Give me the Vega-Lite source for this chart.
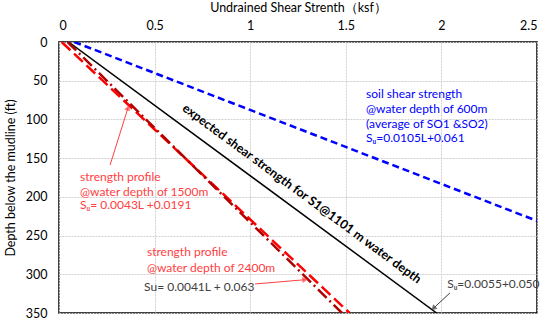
{
  "$schema": "https://vega.github.io/schema/vega-lite/v6.json",
  "autosize": "none",
  "width": 478,
  "height": 271,
  "padding": {"left": 59, "top": 42, "right": 13, "bottom": 9},
  "background": "white",
  "config": {
    "view": {"stroke": "#000000", "strokeWidth": 1.5},
    "font": "Lato",
    "axis": {
      "domain": false,
      "ticks": false,
      "grid": true,
      "gridColor": "#d0d0d0",
      "gridDash": [2, 1],
      "gridWidth": 1,
      "labelFont": "Lato",
      "labelFontSize": 12.5,
      "labelColor": "#000000",
      "titleFont": "Lato",
      "titleFontSize": 12.5,
      "titleFontWeight": "normal",
      "titleColor": "#000000"
    }
  },
  "datasets": {
    "lines": [
      {"series": "blue", "x": 0.08, "depth": 0},
      {"series": "blue", "x": 2.5, "depth": 231},
      {"series": "black", "x": 0.05, "depth": 0},
      {"series": "black", "x": 1.975, "depth": 350},
      {"series": "red1500", "x": 0.014, "depth": 0},
      {"series": "red1500", "x": 1.52, "depth": 350},
      {"series": "red2400", "x": 0.045, "depth": 0},
      {"series": "red2400", "x": 1.48, "depth": 350}
    ],
    "arrows": [
      {"arrow": "a1", "x": 0.267, "depth": 159, "x2": 0.361, "depth2": 85, "dir": 17, "grp": "red"},
      {"arrow": "a2", "x": 1.025, "depth": 312.5, "x2": 1.287, "depth2": 307, "dir": 85, "grp": "red"},
      {"arrow": "a3", "x": 2.045, "depth": 324, "x2": 1.958, "depth2": 344, "dir": 227, "grp": "black"}
    ],
    "labels": [
      {"x": 1.606, "depth": 67, "label": "soil shear strength", "grp": "blue"},
      {"x": 1.606, "depth": 86, "label": "\u00a0@water depth of 600m", "grp": "blue"},
      {"x": 1.606, "depth": 106, "label": "(average of SO1 &SO2)", "grp": "blue"},
      {"x": 1.606, "depth": 124, "label": "Sᵤ=0.0105L+0.061", "grp": "blue"},
      {"x": 0.11, "depth": 174, "label": "strength profile", "grp": "red"},
      {"x": 0.11, "depth": 194, "label": "\u00a0@water depth of 1500m", "grp": "red"},
      {"x": 0.11, "depth": 211, "label": "Sᵤ= 0.0043L +0.0191", "grp": "red"},
      {"x": 0.46, "depth": 271, "label": "strength profile", "grp": "red"},
      {"x": 0.46, "depth": 292, "label": "\u00a0@water depth of 2400m", "grp": "red"},
      {"x": 0.445, "depth": 316, "label": "Su= 0.0041L + 0.063", "grp": "black"},
      {"x": 2.03, "depth": 312.5, "label": "Sᵤ=0.0055+0.050", "grp": "black"}
    ],
    "rotated": [
      {"x": 1.27, "depth": 196, "label": "expected  shear strength for S1@1101 m water depth"}
    ]
  },
  "encoding": {
    "x": {
      "field": "x",
      "type": "quantitative",
      "scale": {"domain": [0, 2.5], "nice": false, "zero": false},
      "axis": {
        "orient": "top",
        "values": [0, 0.5, 1, 1.5, 2, 2.5],
        "labelExpr": "datum.value",
        "labelPadding": 10,
        "title": "Undrained Shear Strenth（ksf）",
        "titlePadding": 5
      }
    },
    "y": {
      "field": "depth",
      "type": "quantitative",
      "scale": {"domain": [0, 350], "reverse": true, "nice": false, "zero": false},
      "axis": {
        "values": [0, 50, 100, 150, 200, 250, 300, 350],
        "labelPadding": 12,
        "title": "Depth below the mudline (ft)",
        "titlePadding": 8
      }
    }
  },
  "layer": [
    {
      "data": {"name": "lines"},
      "transform": [{"filter": "datum.series == 'blue'"}],
      "mark": {"type": "line", "color": "#0000FF", "strokeWidth": 2.5, "strokeDash": [7, 4], "clip": true}
    },
    {
      "data": {"name": "lines"},
      "transform": [{"filter": "datum.series == 'black'"}],
      "mark": {"type": "line", "color": "#000000", "strokeWidth": 1.5, "clip": true}
    },
    {
      "data": {"name": "lines"},
      "transform": [{"filter": "datum.series == 'red1500'"}],
      "mark": {"type": "line", "color": "#FF0000", "strokeWidth": 2.5, "strokeDash": [12, 5], "clip": true}
    },
    {
      "data": {"name": "lines"},
      "transform": [{"filter": "datum.series == 'red2400'"}],
      "mark": {"type": "line", "color": "#B00000", "strokeWidth": 2.5, "strokeDash": [12, 4, 2, 4], "clip": true}
    },
    {
      "data": {"name": "arrows"},
      "mark": {"type": "rule", "strokeWidth": 1},
      "encoding": {
        "x2": {"field": "x2"},
        "y2": {"field": "depth2"},
        "color": {"field": "grp", "type": "nominal", "scale": {"domain": ["red", "black", "blue"], "range": ["#FF4040", "#404040", "#0000FF"]}, "legend": null}
      }
    },
    {
      "data": {"name": "arrows"},
      "mark": {"type": "point", "shape": "triangle-up", "filled": true, "size": 40},
      "encoding": {
        "x": {"field": "x2", "type": "quantitative"},
        "y": {"field": "depth2", "type": "quantitative"},
        "angle": {"field": "dir", "type": "quantitative", "scale": null},
        "color": {"field": "grp", "type": "nominal", "scale": {"domain": ["red", "black", "blue"], "range": ["#FF4040", "#404040", "#0000FF"]}, "legend": null}
      }
    },
    {
      "data": {"name": "labels"},
      "mark": {"type": "text", "align": "left", "baseline": "middle", "fontSize": 12, "font": "Lato"},
      "encoding": {
        "text": {"field": "label"},
        "color": {"field": "grp", "type": "nominal", "scale": {"domain": ["red", "black", "blue"], "range": ["#FF0000", "#000000", "#0000FF"]}, "legend": null}
      }
    },
    {
      "data": {"name": "rotated"},
      "mark": {"type": "text", "align": "center", "baseline": "middle", "fontSize": 12.5, "fontWeight": "bold", "font": "Lato", "angle": 36.4, "color": "#000000"},
      "encoding": {"text": {"field": "label"}}
    }
  ]
}
